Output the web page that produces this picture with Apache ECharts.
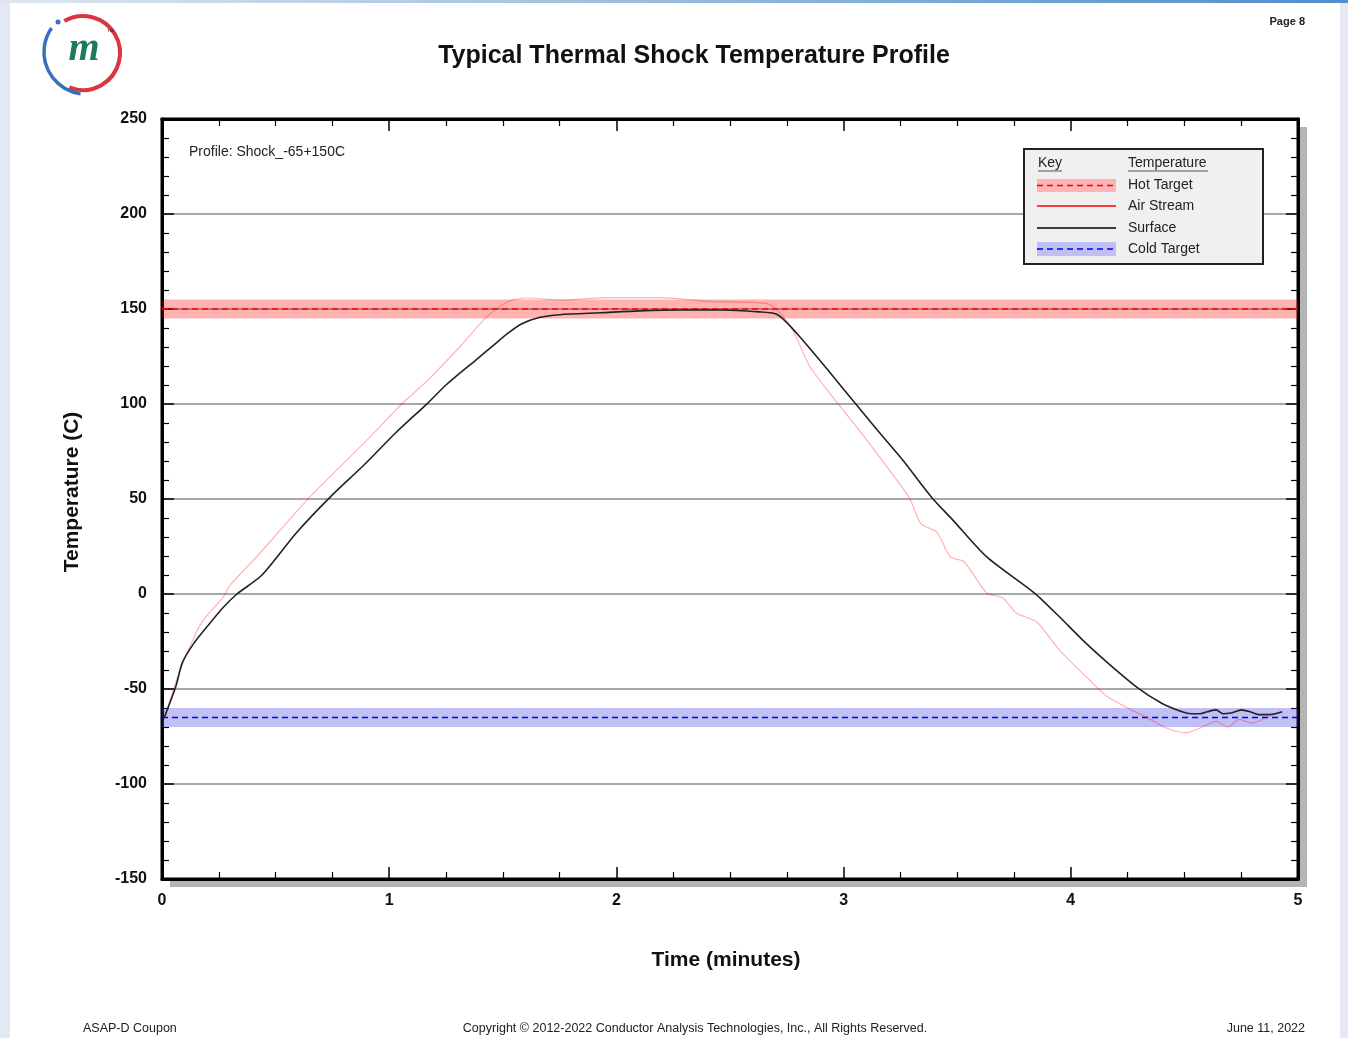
<!DOCTYPE html>
<html>
<head>
<meta charset="utf-8">
<script src="https://cdn.jsdelivr.net/npm/echarts@6/dist/echarts.min.js"></script>
<style>
  body { margin: 0; background: #e3e9f2; }
  #topbar { position: absolute; left: 0; top: 0; width: 1348px; height: 3px; background: linear-gradient(to right, #dfe6f0, #4f8fc9); }
  #page { position: absolute; left: 10px; top: 3px; width: 1330px; height: 1035px; background: #fff; }
  #main { position: absolute; left: 0; top: 0; width: 1348px; height: 1038px; }
</style>
</head>
<body>
<div id="topbar"></div>
<div id="page"></div>
<div id="main"></div>
<script>
// surface (black) temperature trace
const surfaceTime = [0.01, 0.06, 0.09, 0.14, 0.2, 0.27, 0.33, 0.44, 0.59, 0.74, 0.89, 1.03, 1.17, 1.25, 1.38, 1.46, 1.52, 1.58, 1.66, 1.75, 1.93, 2.1, 2.28, 2.46, 2.63, 2.7, 2.74, 2.81, 2.93, 3.05, 3.15, 3.26, 3.39, 3.48, 3.63, 3.84, 3.95, 4.05, 4.16, 4.29, 4.4, 4.49, 4.53, 4.57, 4.6, 4.64, 4.67, 4.71, 4.75, 4.79, 4.83, 4.86, 4.9, 4.93];
const surfaceTemp = [-65, -49, -36, -26, -17, -7, 0, 10, 32, 51, 68, 85, 100.5, 110, 123, 131, 137, 142, 145.5, 147, 148, 149, 149.5, 149.5, 148.5, 147.5, 144, 135, 118, 100.5, 86, 70.5, 50.5, 39, 19.5, 0.5, -12, -24, -36, -49, -57.5, -62, -63, -63, -62, -61, -63, -62.5, -61, -62, -63.5, -63.5, -63, -62];

// air stream (light red) trace
const airTime = [0.01, 0.035, 0.08, 0.14, 0.18, 0.27, 0.3, 0.42, 0.65, 0.89, 1.06, 1.17, 1.31, 1.43, 1.52, 1.61, 1.75, 1.97, 2.19, 2.41, 2.66, 2.72, 2.78, 2.85, 2.95, 3.07, 3.19, 3.29, 3.34, 3.41, 3.47, 3.53, 3.63, 3.7, 3.76, 3.85, 3.95, 4.08, 4.16, 4.25, 4.35, 4.42, 4.51, 4.57, 4.64, 4.69, 4.74, 4.8, 4.86, 4.93];
const airTemp = [-66, -56, -40, -23, -14, -1.5, 4.7, 20, 51, 79.5, 100.5, 112.6, 130, 146, 153.7, 155.8, 154.7, 156, 156, 154, 153, 148, 138, 120, 104, 86, 67, 50.5, 37, 32.6, 19.5, 17, 0.5, -2, -10, -14.7, -29.5, -45, -54, -60, -66, -70.5, -73, -70.5, -67, -70, -66, -68, -65, -62];

// targets
const hotTarget = 150;
const coldTarget = -65;
const tolerance = 5;
const timeRange = [0, 5];

const xTicks = { min: 0, max: 5, interval: 1 };
const yTicks = { min: -150, max: 250, interval: 50 };

const chart = echarts.init(document.getElementById('main'));

const FONT = 'Liberation Sans, Arial, sans-serif';

const tickStyle = { show: true, inside: true, length: 12, lineStyle: { color: '#000', width: 1.5 } };
const minorStyle = { show: true, length: 7, lineStyle: { color: '#000', width: 1.2 } };

function xAx(pos, labels) {
    return {
        type: 'value', position: pos, min: xTicks.min, max: xTicks.max, interval: xTicks.interval,
        axisLine: { show: true, onZero: false, lineStyle: { color: '#000', width: 3 } },
        axisTick: tickStyle,
        minorTick: Object.assign({ splitNumber: 4 }, minorStyle),
        splitLine: { show: false },
        axisLabel: { show: labels, margin: 14, fontFamily: FONT, fontWeight: 'bold', fontSize: 16, color: '#111' }
    };
}
function yAx(pos, labels) {
    return {
        type: 'value', position: pos, min: yTicks.min, max: yTicks.max, interval: yTicks.interval,
        axisLine: { show: true, onZero: false, lineStyle: { color: '#000', width: 3 } },
        axisTick: tickStyle,
        minorTick: Object.assign({ splitNumber: 5 }, minorStyle),
        splitLine: { show: labels, lineStyle: { color: '#8a8a8a', width: 1.5 } },
        axisLabel: { show: labels, margin: 15, fontFamily: FONT, fontWeight: 'bold', fontSize: 16, color: '#111' }
    };
}

const zip = (a, b) => a.map((v, i) => [v, b[i]]);

const txt = (x, y, s, size, extra) => ({
    type: 'text', x: x, y: y, z: 100,
    style: Object.assign({ text: s, font: size + 'px ' + FONT, fill: '#222', textVerticalAlign: 'middle' }, extra || {})
});

chart.setOption({
    animation: false,
    grid: { left: 162, top: 119, width: 1136, height: 760, show: true, backgroundColor: '#fff', borderColor: '#000', borderWidth: 3 },
    xAxis: [xAx('bottom', true), xAx('top', false)],
    yAxis: [yAx('left', true), yAx('right', false)],
    series: [
        {
            name: 'Hot Target', type: 'line', symbol: 'none', z: 3,
            data: [[timeRange[0], hotTarget], [timeRange[1], hotTarget]],
            lineStyle: { color: '#ff0000', width: 1.5, type: [6, 4] },
            markArea: { silent: true, itemStyle: { color: 'rgba(255,0,0,0.3)' },
                data: [[{ yAxis: hotTarget - tolerance }, { yAxis: hotTarget + tolerance }]] }
        },
        {
            name: 'Cold Target', type: 'line', symbol: 'none', z: 3,
            data: [[timeRange[0], coldTarget], [timeRange[1], coldTarget]],
            lineStyle: { color: '#0000ff', width: 1.5, type: [6, 4] },
            markArea: { silent: true, itemStyle: { color: 'rgba(60,60,220,0.32)' },
                data: [[{ yAxis: coldTarget - tolerance }, { yAxis: coldTarget + tolerance }]] }
        },
        {
            name: 'Air Stream', type: 'line', symbol: 'none', z: 4, smooth: 0.25,
            data: zip(airTime, airTemp),
            lineStyle: { color: 'rgba(255,0,0,0.3)', width: 1.2 }
        },
        {
            name: 'Surface', type: 'line', symbol: 'none', z: 5, smooth: 0.25,
            data: zip(surfaceTime, surfaceTemp),
            lineStyle: { color: '#222', width: 1.6 }
        }
    ],
    graphic: [
        // shadow behind plot frame
        { type: 'rect', z: -10, shape: { x: 170, y: 127, width: 1137, height: 760 }, style: { fill: '#b4b4b4' } },
        // logo
        { type: 'arc', z: 100, shape: { cx: 83, cy: 53, r: 37, startAngle: -2.1, endAngle: 1.95 }, style: { stroke: '#d9363e', lineWidth: 4, fill: null } },
        { type: 'arc', z: 100, shape: { cx: 86, cy: 52, r: 42, startAngle: 1.7, endAngle: 3.75 }, style: { stroke: '#3a6fc0', lineWidth: 3.5, fill: null } },
        { type: 'circle', z: 100, shape: { cx: 58, cy: 22, r: 2.5 }, style: { fill: '#3a6fc0' } },
        { type: 'text', z: 100, x: 84, y: 50, style: { text: 'm', font: 'italic bold 40px Liberation Serif, serif', fill: '#1f7a5c', textAlign: 'center', textVerticalAlign: 'middle' } },
        txt(107, 32, '™', 7),
        // titles
        txt(694, 56, 'Typical Thermal Shock Temperature Profile', 25, { font: 'bold 25px ' + FONT, textAlign: 'center', fill: '#111' }),
        txt(1305, 22, 'Page 8', 11, { font: 'bold 11px ' + FONT, textAlign: 'right' }),
        txt(726, 960, 'Time (minutes)', 21, { font: 'bold 21px ' + FONT, textAlign: 'center', fill: '#111' }),
        { type: 'text', z: 100, x: 72, y: 492, rotation: Math.PI / 2,
          style: { text: 'Temperature (C)', font: 'bold 21px ' + FONT, fill: '#111', textAlign: 'center', textVerticalAlign: 'middle' } },
        txt(189, 152, 'Profile: Shock_-65+150C', 14),
        // legend box
        { type: 'rect', z: 90, shape: { x: 1024, y: 149, width: 239, height: 115 }, style: { fill: '#f0f0f0', stroke: '#222', lineWidth: 2 } },
        txt(1038, 163, 'Key', 14),
        txt(1128, 163, 'Temperature', 14),
        { type: 'line', z: 100, shape: { x1: 1038, y1: 171, x2: 1062, y2: 171 }, style: { stroke: '#555', lineWidth: 1 } },
        { type: 'line', z: 100, shape: { x1: 1128, y1: 171, x2: 1208, y2: 171 }, style: { stroke: '#555', lineWidth: 1 } },
        { type: 'rect', z: 95, shape: { x: 1037, y: 179, width: 79, height: 13 }, style: { fill: '#ffb3b3' } },
        { type: 'line', z: 100, shape: { x1: 1037, y1: 185.5, x2: 1116, y2: 185.5 }, style: { stroke: '#ff0000', lineWidth: 1.5, lineDash: [6, 4] } },
        { type: 'line', z: 100, shape: { x1: 1037, y1: 206, x2: 1116, y2: 206 }, style: { stroke: '#ff0000', lineWidth: 1.5 } },
        { type: 'line', z: 100, shape: { x1: 1037, y1: 228, x2: 1116, y2: 228 }, style: { stroke: '#000', lineWidth: 1.5 } },
        { type: 'rect', z: 95, shape: { x: 1037, y: 242, width: 79, height: 14 }, style: { fill: '#bfbff3' } },
        { type: 'line', z: 100, shape: { x1: 1037, y1: 249, x2: 1116, y2: 249 }, style: { stroke: '#0000ff', lineWidth: 1.5, lineDash: [6, 4] } },
        txt(1128, 185, 'Hot Target', 14),
        txt(1128, 206, 'Air Stream', 14),
        txt(1128, 228, 'Surface', 14),
        txt(1128, 249, 'Cold Target', 14),
        // footer
        txt(83, 1029, 'ASAP-D Coupon', 12.5),
        txt(695, 1029, 'Copyright © 2012-2022 Conductor Analysis Technologies, Inc., All Rights Reserved.', 12.5, { textAlign: 'center' }),
        txt(1305, 1029, 'June 11, 2022', 12.5, { textAlign: 'right' })
    ]
});
</script>
</body>
</html>
